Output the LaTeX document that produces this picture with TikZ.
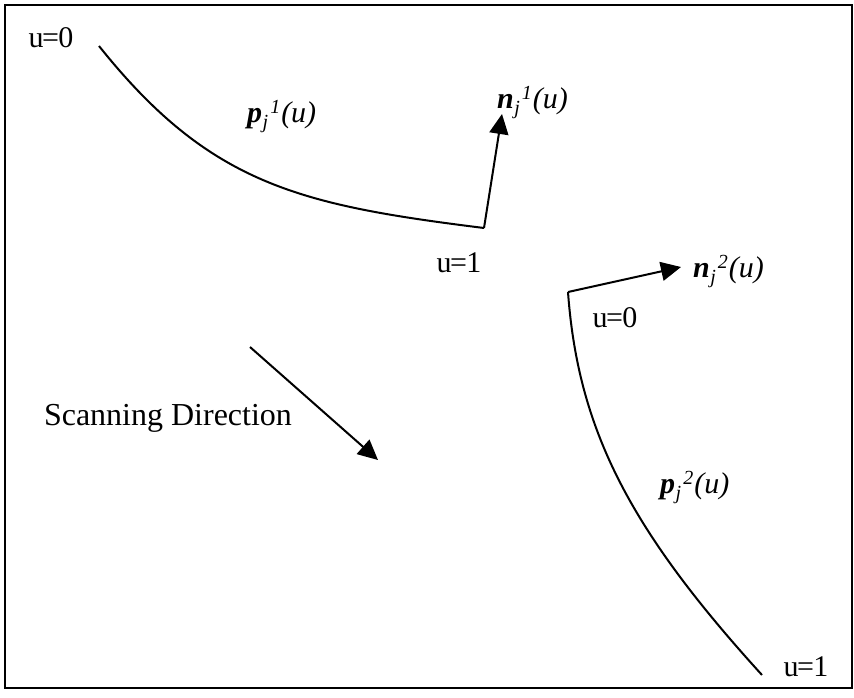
\documentclass[tikz,border=0pt]{standalone}
\usepackage{fontspec}
\setmainfont{Liberation Serif}
\usetikzlibrary{arrows.meta}
\newcommand{\scr}{\fontsize{20}{22}\selectfont\itshape}
\newcommand{\vlabel}[2]{{\bfseries\itshape #1}\kern0.5pt\raisebox{-6pt}{\scr j}\kern2pt\raisebox{9pt}{\scr #2}\kern1pt\textit{(u)}}
\newcommand{\uval}[1]{u\kern-1.5pt=\kern-0.5pt#1}
\begin{document}
\begin{tikzpicture}[x=1pt,y=-1pt,
  lbl/.style={inner sep=0pt,font=\fontsize{30}{32}\selectfont},
  vec/.style={inner sep=0pt,anchor=base west,font=\fontsize{30}{32}\selectfont},
  curve/.style={line width=2pt},
  arr/.style={line width=2pt,-{Triangle[length=20pt,width=19pt]}}]
\useasboundingbox (0,0) rectangle (854,697);
\draw[line width=1.6pt] (5,5) rectangle (852,688);
% curve 1
\coordinate (c1s) at (99,46);
\coordinate (c1e) at (484,228);
\draw[curve] (c1s) .. controls (210,185) and (300,205) .. (c1e);
\coordinate (n1tip) at (502,114);
\draw[arr] (c1e) -- (n1tip);
% curve 2
\coordinate (c2s) at (568,292);
\coordinate (c2e) at (762,675);
\draw[curve] (c2s) .. controls (578,430) and (630,530) .. (c2e);
\coordinate (n2tip) at (681,267);
\draw[arr] (c2s) -- (n2tip);
% scanning direction
\coordinate (sa) at (250,347);
\coordinate (sb) at (378,460);
\draw[arr] (sa) -- (sb);
% labels
\node[lbl] (u0a) at (51,38) {\uval{0}};
\node[lbl] (u1a) at (459,263) {\uval{1}};
\node[lbl] (u0b) at (615,318) {\uval{0}};
\node[lbl] (u1b) at (806,667) {\uval{1}};
\node[vec] (p1) at (247,122) {\vlabel{p}{1}};
\node[vec] (p2) at (660,493) {\vlabel{p}{2}};
\node[vec] (n1) at (497,108) {\vlabel{n}{1}};
\node[vec] (n2) at (693,277) {\vlabel{n}{2}};
\node[lbl,font=\fontsize{32}{34}\selectfont] (scan) at (168,418) {Scanning Direction};
\end{tikzpicture}
\end{document}
